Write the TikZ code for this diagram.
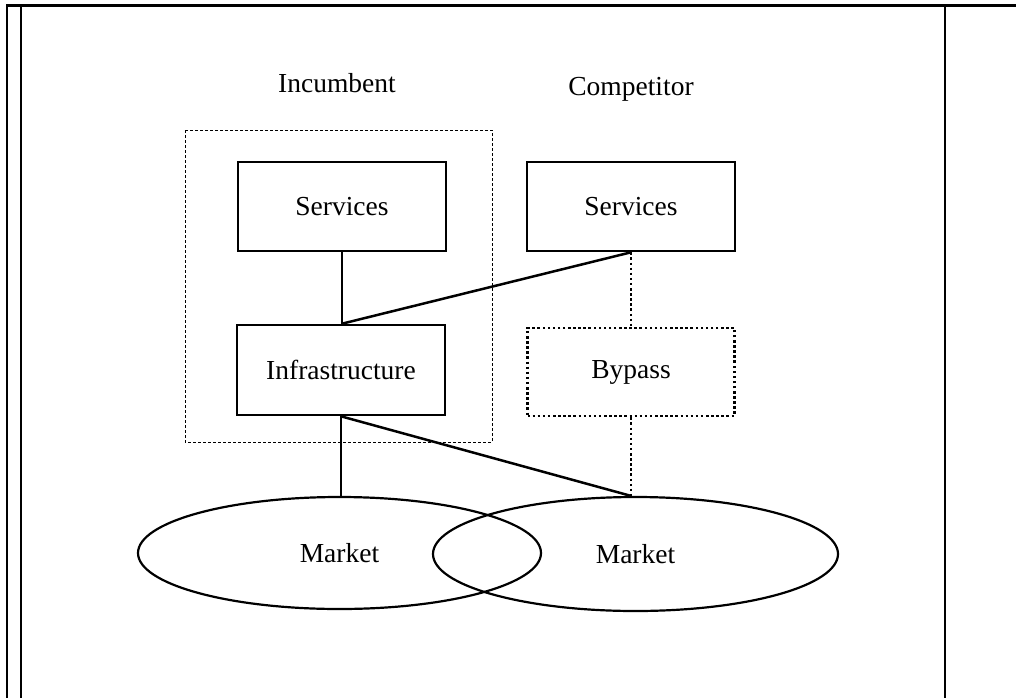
\documentclass[tikz,border=0pt]{standalone}
\usepackage{fontspec}
\setmainfont{Liberation Serif}
\usetikzlibrary{shapes.geometric}
\tikzset{
  box/.style={draw, line width=2.6pt, minimum width=208pt, minimum height=89pt, inner sep=0pt, font=\fontsize{27.5}{30}\selectfont},
  dotbox/.style={box, line width=2.6pt, dash pattern=on 2.5pt off 2.6pt},
  mkt/.style={draw, ellipse, line width=2.2pt, minimum width=403pt, minimum height=112pt, inner sep=0pt, font=\fontsize{27.5}{30}\selectfont},
  lbl/.style={font=\fontsize{27.5}{30}\selectfont, inner sep=0pt, anchor=base},
  conn/.style={line width=2.5pt},
  dotconn/.style={line width=2.6pt, dash pattern=on 2.5pt off 2.6pt},
  frameline/.style={line width=2pt},
  group/.style={draw, line width=1pt, dash pattern=on 3pt off 2pt}
}
\begin{document}
\begin{tikzpicture}[x=1pt,y=-1pt]
\useasboundingbox (0,0) rectangle (1016,698);
% frame
\draw[line width=3.3pt] (6,5.5) -- (1016,5.5);
\draw[frameline] (7,5) -- (7,698);
\draw[frameline] (21,5) -- (21,698);
\draw[frameline] (945,5) -- (945,698);
% group box
\draw[group] (185,130) rectangle (492,442);
% labels
\node[lbl] (inclbl) at (337,93) {Incumbent};
\node[lbl] (complbl) at (631,95.5) {Competitor};
% boxes
\node[box] (isvc) at (342,206.5) {Services};
\node[box] (csvc) at (631,206.5) {Services};
\node[box, minimum height=90pt] (infra) at (341,370) {Infrastructure};
\node[dotbox, minimum width=207pt, minimum height=88pt] (bypass) at (631,372) {Bypass};
% markets
\node[mkt] (lmkt) at (339.5,553) {Market};
\node[mkt, minimum width=405pt, minimum height=114pt] (rmkt) at (635.5,554) {Market};
% connectors
\coordinate (ltop) at (infra.south |- lmkt.north);
\coordinate (rtop) at (bypass.south |- rmkt.north);
\draw[conn] (isvc.south) -- (isvc.south |- infra.north);
\draw[conn] (csvc.south) -- (isvc.south |- infra.north);
\draw[conn] (infra.south) -- (ltop);
\draw[conn] (infra.south) -- (rtop);
\draw[dotconn] (csvc.south) -- (bypass.north);
\draw[dotconn] (bypass.south) -- (rtop);
\end{tikzpicture}
\end{document}
